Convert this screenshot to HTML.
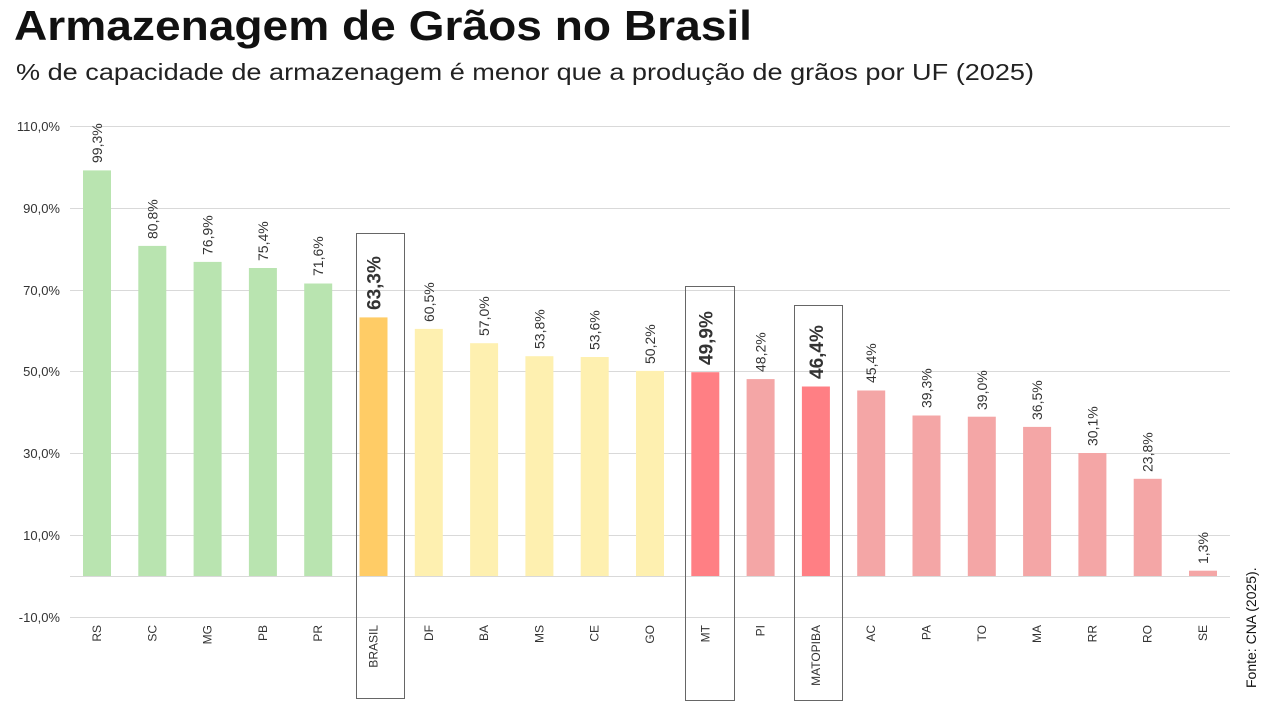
<!DOCTYPE html>
<html><head><meta charset="utf-8"><style>
body{margin:0;background:#fff;width:1276px;height:706px;overflow:hidden}
</style></head><body>
<svg width="1276" height="706" xmlns="http://www.w3.org/2000/svg" font-family="Liberation Sans, sans-serif">
<text x="14" y="40" font-size="42" fill="#111" font-weight="bold" textLength="738" lengthAdjust="spacingAndGlyphs">Armazenagem de Grãos no Brasil</text>
<text x="16" y="80" font-size="23" fill="#222" textLength="1018" lengthAdjust="spacingAndGlyphs">%  de capacidade de armazenagem é menor que a produção de grãos por UF (2025)</text>
<g stroke="#d9d9d9" stroke-width="1">
<line x1="70" x2="1230" y1="126.5" y2="126.5"/><line x1="70" x2="1230" y1="208.5" y2="208.5"/>
<line x1="70" x2="1230" y1="290.5" y2="290.5"/><line x1="70" x2="1230" y1="371.5" y2="371.5"/>
<line x1="70" x2="1230" y1="453.5" y2="453.5"/><line x1="70" x2="1230" y1="535.5" y2="535.5"/>
<line x1="70" x2="1230" y1="576.5" y2="576.5"/><line x1="70" x2="1230" y1="617.5" y2="617.5"/>
</g>
<g font-size="13" fill="#333" text-anchor="end">
<text x="60" y="131">110,0%</text><text x="60" y="213">90,0%</text><text x="60" y="295">70,0%</text>
<text x="60" y="376">50,0%</text><text x="60" y="458">30,0%</text><text x="60" y="540">10,0%</text><text x="60" y="622">-10,0%</text>
</g>
<g>
<rect x="83" y="170.4" width="28" height="405.6" fill="#b9e4b0"/>
<rect x="138.3" y="245.9" width="28" height="330.1" fill="#b9e4b0"/>
<rect x="193.6" y="261.9" width="28" height="314.1" fill="#b9e4b0"/>
<rect x="248.9" y="268" width="28" height="308" fill="#b9e4b0"/>
<rect x="304.2" y="283.5" width="28" height="292.5" fill="#b9e4b0"/>
<rect x="359.5" y="317.4" width="28" height="258.6" fill="#ffcc66"/>
<rect x="414.8" y="328.9" width="28" height="247.1" fill="#fef0b0"/>
<rect x="470.1" y="343.2" width="28" height="232.8" fill="#fef0b0"/>
<rect x="525.4" y="356.2" width="28" height="219.8" fill="#fef0b0"/>
<rect x="580.7" y="357" width="28" height="219" fill="#fef0b0"/>
<rect x="636" y="370.9" width="28" height="205.1" fill="#fef0b0"/>
<rect x="691.3" y="372.2" width="28" height="203.8" fill="#ff7f84"/>
<rect x="746.6" y="379.1" width="28" height="196.9" fill="#f4a6a6"/>
<rect x="801.9" y="386.5" width="28" height="189.5" fill="#ff7f84"/>
<rect x="857.2" y="390.5" width="28" height="185.5" fill="#f4a6a6"/>
<rect x="912.5" y="415.5" width="28" height="160.5" fill="#f4a6a6"/>
<rect x="967.8" y="416.7" width="28" height="159.3" fill="#f4a6a6"/>
<rect x="1023.1" y="426.9" width="28" height="149.1" fill="#f4a6a6"/>
<rect x="1078.4" y="453" width="28" height="123" fill="#f4a6a6"/>
<rect x="1133.7" y="478.8" width="28" height="97.2" fill="#f4a6a6"/>
<rect x="1189" y="570.7" width="28" height="5.3" fill="#f4a6a6"/>
</g>
<g font-size="14" fill="#333">
<text transform="translate(102,163) rotate(-90)">99,3%</text>
<text transform="translate(157.3,239) rotate(-90)">80,8%</text>
<text transform="translate(212.6,255) rotate(-90)">76,9%</text>
<text transform="translate(267.9,261) rotate(-90)">75,4%</text>
<text transform="translate(323.2,276) rotate(-90)">71,6%</text>
<text transform="translate(433.8,322) rotate(-90)">60,5%</text>
<text transform="translate(489.1,336) rotate(-90)">57,0%</text>
<text transform="translate(544.4,349) rotate(-90)">53,8%</text>
<text transform="translate(599.7,350) rotate(-90)">53,6%</text>
<text transform="translate(655,364) rotate(-90)">50,2%</text>
<text transform="translate(765.6,372) rotate(-90)">48,2%</text>
<text transform="translate(876.2,383) rotate(-90)">45,4%</text>
<text transform="translate(931.5,408) rotate(-90)">39,3%</text>
<text transform="translate(986.8,410) rotate(-90)">39,0%</text>
<text transform="translate(1042.1,420) rotate(-90)">36,5%</text>
<text transform="translate(1097.4,446) rotate(-90)">30,1%</text>
<text transform="translate(1152.7,472) rotate(-90)">23,8%</text>
<text transform="translate(1208,564) rotate(-90)">1,3%</text>
</g>
<g font-size="19" font-weight="bold" fill="#333">
<text transform="translate(380.5,310) rotate(-90)">63,3%</text>
<text transform="translate(712.3,365) rotate(-90)">49,9%</text>
<text transform="translate(822.9,379) rotate(-90)">46,4%</text>
</g>
<g font-size="12" fill="#333" text-anchor="end">
<text transform="translate(101,625) rotate(-90)">RS</text>
<text transform="translate(156.3,625) rotate(-90)">SC</text>
<text transform="translate(211.6,625) rotate(-90)">MG</text>
<text transform="translate(266.9,625) rotate(-90)">PB</text>
<text transform="translate(322.2,625) rotate(-90)">PR</text>
<text transform="translate(377.5,625) rotate(-90)">BRASIL</text>
<text transform="translate(432.8,625) rotate(-90)">DF</text>
<text transform="translate(488.1,625) rotate(-90)">BA</text>
<text transform="translate(543.4,625) rotate(-90)">MS</text>
<text transform="translate(598.7,625) rotate(-90)">CE</text>
<text transform="translate(654,625) rotate(-90)">GO</text>
<text transform="translate(709.3,625) rotate(-90)">MT</text>
<text transform="translate(764.6,625) rotate(-90)">PI</text>
<text transform="translate(819.9,625) rotate(-90)">MATOPIBA</text>
<text transform="translate(875.2,625) rotate(-90)">AC</text>
<text transform="translate(930.5,625) rotate(-90)">PA</text>
<text transform="translate(985.8,625) rotate(-90)">TO</text>
<text transform="translate(1041.1,625) rotate(-90)">MA</text>
<text transform="translate(1096.4,625) rotate(-90)">RR</text>
<text transform="translate(1151.7,625) rotate(-90)">RO</text>
<text transform="translate(1207,625) rotate(-90)">SE</text>
</g>
<g fill="none" stroke="#666" stroke-width="1">
<rect x="356.5" y="233.5" width="48" height="465"/>
<rect x="685.5" y="286.5" width="49" height="414"/>
<rect x="794.5" y="305.5" width="48" height="395"/>
</g>
<text transform="translate(1256,688) rotate(-90)" font-size="14" fill="#111">Fonte: CNA (2025).</text>
</svg>
</body></html>
